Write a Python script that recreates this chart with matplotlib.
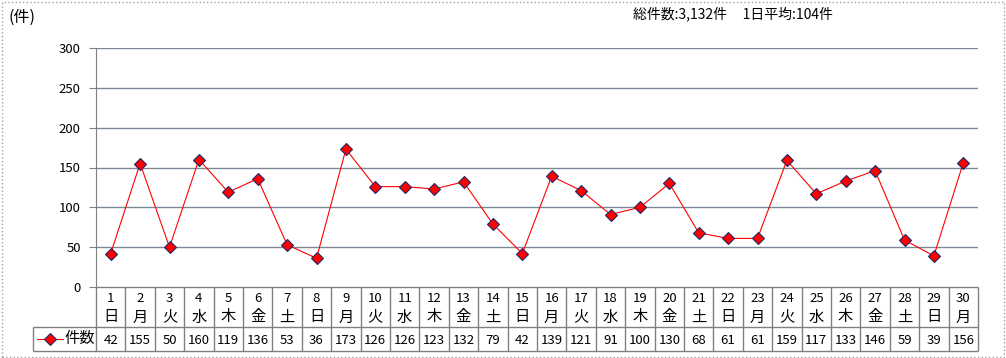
import matplotlib.pyplot as plt
from matplotlib.patches import Rectangle
from matplotlib.lines import Line2D

plt.rcParams['font.family'] = ['Noto Sans CJK JP', 'DejaVu Sans']

days = [str(d) for d in range(1, 31)]
weekdays = ["日", "月", "火", "水", "木", "金", "土",
            "日", "月", "火", "水", "木", "金", "土",
            "日", "月", "火", "水", "木", "金", "土",
            "日", "月", "火", "水", "木", "金", "土",
            "日", "月"]
counts = [42, 155, 50, 160, 119, 136, 53, 36, 173, 126,
          126, 123, 132, 79, 42, 139, 121, 91, 100, 130,
          68, 61, 61, 159, 117, 133, 146, 59, 39, 156]
series_name = "件数"
unit_label = "(件)"
summary_text = "総件数:3,132件     1日平均:104件"
yticks = [0, 50, 100, 150, 200, 250, 300]

W, H = 1006, 358
grid_col = "#7d8896"
line_col = "#808080"


def fx(x):
    return x / W


def fy(y):
    return 1 - y / H


fig = plt.figure(figsize=(W / 100, H / 100), dpi=100)

# main plot area
ax = fig.add_axes([fx(96), fy(287), fx(978) - fx(96), fy(48) - fy(287)])
n = len(counts)
xs = [i + 0.5 for i in range(n)]
ax.plot(xs, counts, color="#ff0000", lw=0.8, marker="D", markersize=6,
        markerfacecolor="#ff0000", markeredgecolor="#1f2a6b",
        markeredgewidth=0.8, zorder=3, clip_on=False)
ax.set_xlim(0, n)
ax.set_ylim(0, 300)
ax.set_yticks(yticks)
ax.set_yticklabels([str(v) for v in yticks], fontsize=9.5)
ax.set_xticks([])
for v in yticks[1:]:
    ax.axhline(v, color=grid_col, lw=1.0, zorder=1)
for s in ["top", "right", "bottom"]:
    ax.spines[s].set_visible(False)
ax.spines["left"].set_color(line_col)
ax.tick_params(axis="y", length=5, color=line_col, pad=6)

# data table below the chart
tab = fig.add_axes([fx(96), fy(351), fx(978) - fx(96), fy(287) - fy(351)])
tab.set_xlim(0, n)
tab.set_ylim(64, 0)
tab.axis("off")
leg_left = -(96 - 33) / ((978 - 96) / n)
kw = dict(color=line_col, lw=1.0, clip_on=False)
tab.hlines(0, 0, n, **kw)
tab.hlines([40, 64], leg_left, n, **kw)
tab.vlines(range(n + 1), 0, 64, **kw)
tab.vlines(leg_left, 40, 64, **kw)
for i in range(n):
    tab.text(i + 0.5, 11, days[i], ha="center", va="center", fontsize=9.5)
    tab.text(i + 0.5, 30, weekdays[i], ha="center", va="center", fontsize=11)
    tab.text(i + 0.5, 53, str(counts[i]), ha="center", va="center", fontsize=9.5)

# legend key inside the table
fig.add_artist(Line2D([fx(37), fx(63)], [fy(339), fy(339)], color="#ff0000", lw=0.8))
fig.add_artist(Line2D([fx(50)], [fy(339)], marker="D", markersize=6,
                      markerfacecolor="#ff0000", markeredgecolor="#1f2a6b",
                      markeredgewidth=0.8))
fig.text(fx(65), fy(339), series_name, ha="left", va="center", fontsize=11)

# headers
fig.text(fx(8), fy(17), unit_label, ha="left", va="center", fontsize=11.5)
fig.text(fx(633), fy(14), summary_text, ha="left", va="center", fontsize=10)

# outer frame
fig.add_artist(Rectangle((fx(1.5), fy(356.5)), fx(1002), fy(1.5) - fy(356.5),
                         transform=fig.transFigure, fill=False,
                         edgecolor="#a0a0a0", lw=1.0, linestyle=":"))

fig.savefig("out.png", dpi=100)
